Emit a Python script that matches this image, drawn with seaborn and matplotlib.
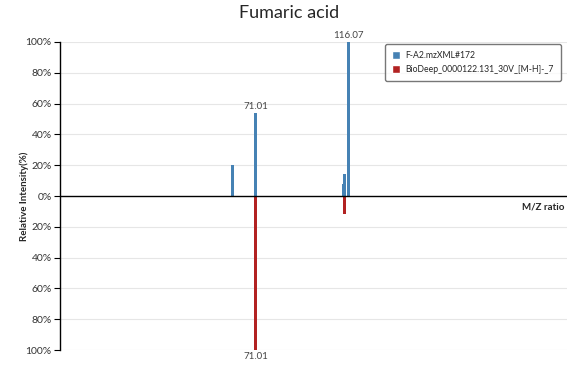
import pandas as pd
import matplotlib.pyplot as plt
import seaborn as sns
from matplotlib.patches import Patch

# spectrum peaks
sample_name = "F-A2.mzXML#172"
ref_name = "BioDeep_0000122.131_30V_[M-H]-_7"
sample_mz = [59.5, 71.01, 113.7, 114.5, 116.07]
sample_int = [20, 54, 8, 14.5, 100]
ref_mz = [71.01, 114.5]
ref_int = [100, 12]

df = pd.DataFrame({
    "mz": sample_mz + ref_mz,
    "intensity": sample_int + [-v for v in ref_int],
    "series": [sample_name] * len(sample_mz) + [ref_name] * len(ref_mz),
})

blue = "#4682B4"
red = "#B22222"

sns.set_style("white")
plt.rcParams['font.family'] = ['Lato', 'DejaVu Sans']

fig = plt.figure(figsize=(5.79, 3.65), dpi=100)
ax = fig.add_axes([0.1036, 0.041, 0.8754, 0.844])

sns.barplot(data=df, x="mz", y="intensity", hue="series", dodge=False,
            native_scale=True, palette=[blue, red],
            saturation=1, legend=False, ax=ax)

# make the peak sticks about 3 px wide
bar_w = 1.5
for p in ax.patches:
    cx = p.get_x() + p.get_width() / 2
    p.set_width(bar_w)
    p.set_x(cx - bar_w / 2)
    p.set_linewidth(0)

ax.set_xlim(-24.8, 223)
ax.set_ylim(-100, 100)
yt = list(range(-100, 101, 20))
ax.set_yticks(yt)
ax.set_yticklabels([f"{abs(v)}%" for v in yt], fontsize=7.5, color="#333333")
ax.set_xticks([])
for v in yt:
    if v != 0:
        ax.axhline(v, color="#e6e6e6", lw=0.8, zorder=0)
ax.axhline(0, color="black", lw=1, zorder=3)

for s in ["top", "right", "bottom"]:
    ax.spines[s].set_visible(False)
ax.spines["left"].set_color("black")
ax.spines["left"].set_linewidth(1)
ax.tick_params(axis="y", length=4, width=0.8, color="black", pad=2, left=True)

ax.set_xlabel("")
ax.set_ylabel("Relative Intensity(%)", fontsize=7, fontweight="bold")
ax.yaxis.set_label_coords(-0.062, 0.5)
ax.text(0.995, 0.48, "M/Z ratio", transform=ax.transAxes, ha="right", va="top",
        fontsize=7, fontweight="bold")

# peak labels
ax.text(116.07, 101, "116.07", ha="center", va="bottom", fontsize=7, color="#444444")
ax.text(71.01, 55, "71.01", ha="center", va="bottom", fontsize=7, color="#444444")
ax.text(71.01, -101, "71.01", ha="center", va="top", fontsize=7, color="#444444")

fig.suptitle("Fumaric acid", x=0.5, y=0.985, fontsize=13)

handles = [Patch(facecolor=blue, label=sample_name), Patch(facecolor=red, label=ref_name)]
leg = ax.legend(handles=handles, loc="upper right", bbox_to_anchor=(0.988, 0.994),
                borderaxespad=0, fontsize=6.2, handlelength=1.0, handleheight=1.0,
                handletextpad=0.6, frameon=True, fancybox=True, borderpad=0.8,
                labelspacing=0.6)
leg.get_frame().set_edgecolor("#555555")
leg.get_frame().set_linewidth(1)

fig.savefig("out.png", dpi=100)
